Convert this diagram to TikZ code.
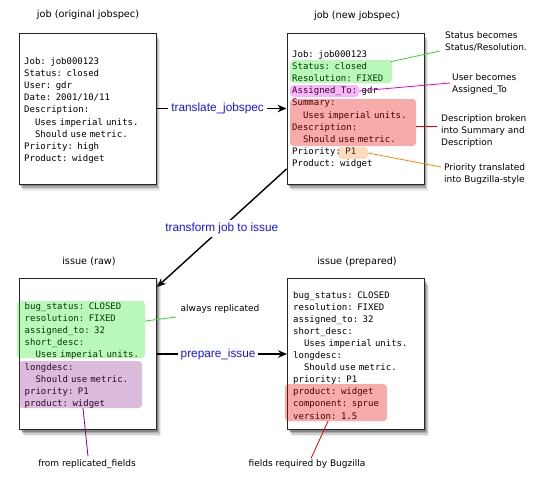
\documentclass[tikz,border=0pt]{standalone}
\usepackage{fontspec}
\setmainfont{DejaVu Sans}
\newfontfamily\monofont{DejaVu Sans Mono}
\newfontfamily\helvfont{Liberation Sans}
\usetikzlibrary{arrows.meta,shadows,calc}
\definecolor{cgreen}{RGB}{0,230,0}
\definecolor{cmag}{RGB}{230,0,230}
\definecolor{cred}{RGB}{235,0,0}
\definecolor{corange}{RGB}{245,130,20}
\definecolor{cpurple}{RGB}{140,30,140}
\definecolor{lgreen}{RGB}{40,220,40}
\definecolor{lmag}{RGB}{225,0,225}
\definecolor{lred}{RGB}{235,0,0}
\definecolor{lorange}{RGB}{255,135,0}
\definecolor{lpurple}{RGB}{128,0,128}
\definecolor{lblue}{RGB}{20,20,255}
\tikzset{
  softshadow/.style={
    drop shadow={shadow xshift=1pt, shadow yshift=-2pt, opacity=0.22, fill=black},
    drop shadow={shadow xshift=2pt, shadow yshift=-3.5pt, opacity=0.17, fill=black},
    drop shadow={shadow xshift=3pt, shadow yshift=-5pt, opacity=0.12, fill=black},
    drop shadow={shadow xshift=4pt, shadow yshift=-6.5pt, opacity=0.07, fill=black}},
  jbox/.style={draw=black!85, line width=1pt, fill=white, minimum width=137pt,
    minimum height=151pt, inner sep=0pt, softshadow},
  txt/.style={font={\fontsize{9}{12.1}\monofont}, align=left, text width=135pt,
    inner sep=0pt, anchor=base west},
  ttl/.style={font=\fontsize{9.7}{12}\selectfont, inner sep=0pt},
  ann/.style={font=\fontsize{9}{12}\selectfont, align=left, text width=100pt,
    inner sep=0pt, anchor=base west},
  annc/.style={font=\fontsize{9}{12}\selectfont, inner sep=0pt},
  lbl/.style={font={\fontsize{11.8}{14}\helvfont}, text=lblue, fill=white, inner sep=3pt},
  arr/.style={line width=1.4pt, -{Stealth[length=9pt,width=7.5pt]}},
  hl/.style={rounded corners=3.5pt, inner sep=0pt, fill opacity=0.3},
  tie/.style={line width=0.8pt}
}
\begin{document}
\begin{tikzpicture}[x=1pt,y=-1pt]
\fill[white] (0,0) rectangle (545,479);
\useasboundingbox (0,0) rectangle (545,479);

% boxes
\node[jbox] (b1) at (87.5,108.5) {};
\node[jbox] (b2) at (355.5,108.5) {};
\node[jbox] (b3) at (88,354) {};
\node[jbox] (b4) at (356,354) {};

% titles
\node[ttl] (ti1) at (88,15) {job (original jobspec)};
\node[ttl] (ti2) at (357,16) {job (new jobspec)};
\node[ttl] (ti3) at (89,261) {issue (raw)};
\node[ttl] (ti4) at (357,262) {issue (prepared)};

% box texts
\node[txt] (t1) at (24,64.5) {Job: job000123\\Status: closed\\User: gdr\\Date: 2001/10/11\\Description:\\\phantom{xx}Uses imperial units.\\\phantom{xx}Should use metric.\\Priority: high\\Product: widget};
\node[txt] (t2) at (292,57.5) {Job: job000123\\Status: closed\\Resolution: FIXED\\Assigned\_To: gdr\\Summary:\\\phantom{xx}Uses imperial units.\\Description:\\\phantom{xx}Should use metric.\\Priority: P1\\Product: widget};
\node[txt] (t3) at (24.5,309.5) {bug\_status: CLOSED\\resolution: FIXED\\assigned\_to: 32\\short\_desc:\\\phantom{xx}Uses imperial units.\\longdesc:\\\phantom{xx}Should use metric.\\priority: P1\\product: widget};
\node[txt] (t4) at (293,298) {bug\_status: CLOSED\\resolution: FIXED\\assigned\_to: 32\\short\_desc:\\\phantom{xx}Uses imperial units.\\longdesc:\\\phantom{xx}Should use metric.\\priority: P1\\product: widget\\component: sprue\\version: 1.5};

% highlights
\node[hl, fill=cgreen, fill opacity=0.27, minimum width=102pt, minimum height=23pt] (hg2) at (341,71.5) {};
\node[hl, fill=cmag, fill opacity=0.28, minimum width=69pt, minimum height=12pt] (hm2) at (324.5,91) {};
\node[hl, fill=cred, fill opacity=0.33, minimum width=126pt, minimum height=47pt] (hr2) at (353,122.5) {};
\node[hl, fill=corange, fill opacity=0.28, minimum width=30pt, minimum height=12pt] (ho2) at (353,153) {};
\node[hl, fill=cgreen, fill opacity=0.27, minimum width=128pt, minimum height=57pt] (hg3) at (81,329.5) {};
\node[hl, fill=cpurple, fill opacity=0.3, minimum width=123pt, minimum height=47pt] (hp3) at (80.5,384.5) {};
\node[hl, fill=cred, fill opacity=0.33, minimum width=102pt, minimum height=37pt] (hr4) at (336,402.5) {};

% annotations
\node[ann] (a1) at (445,38.5) {Status becomes\\Status/Resolution.};
\node[ann] (a2) at (452,80) {User becomes\\Assigned\_To};
\node[ann] (a3) at (441,121.5) {Description broken\\into Summary and\\Description};
\node[ann] (a4) at (444,170) {Priority translated\\into Bugzilla-style};
\node[annc] (a5) at (220,309) {always replicated};
\node[annc] (a6) at (87,464) {from replicated\_fields};
\node[annc] (a7) at (307,464) {fields required by Bugzilla};

% annotation ties
\draw[tie, lgreen] ($(hg2.north east)+(-2,2)$) -- ($(a1.base west)+(-5,12.5)$);
\draw[tie, lmag] (hm2.east) -- ($(a2.base west)+(-2,3)$);
\draw[tie, lred] ($(hr2.east)+(0,3.5)$) -- ($(a3.base west)+(-4,4.5)$);
\draw[tie, lorange] (ho2.east) -- ($(a4.base west)+(-3,-3)$);
\draw[tie, lgreen] ($(hg3.east)+(0,-8.5)$) -- ($(a5.west)+(-4,8)$);
\draw[tie, lpurple] ($(hp3.south)+(2.5,0)$) -- ($(a6.north)+(1,-3)$);
\draw[tie, lred] ($(hr4.south)+(-8,0)$) -- ($(a7.north)+(4,-1)$);

% main arrows
\draw[arr] (b1.east) -- node[lbl, pos=0.47] (l1) {translate\_jobspec} (b2.west);
\draw[arr] ($(b2.south west)+(0,-15.5)$) -- node[lbl, pos=0.5] (l2) {transform job to issue} ($(b3.north east)+(0,9)$);
\draw[arr] (b3.east) -- node[lbl, pos=0.47] (l3) {prepare\_issue} (b4.west);
\end{tikzpicture}
\end{document}
